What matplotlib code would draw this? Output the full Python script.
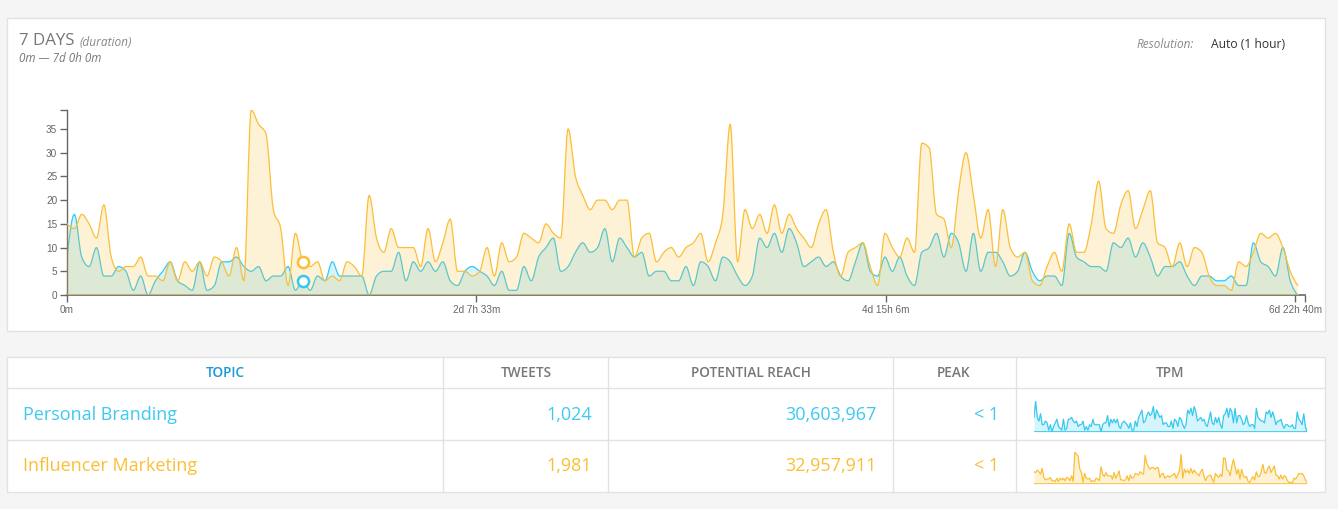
import matplotlib
matplotlib.use("Agg")
import matplotlib.pyplot as plt
from matplotlib.patches import Rectangle, PathPatch
from matplotlib.path import Path
from matplotlib.lines import Line2D

# ---------------- data ----------------
hours = list(range(168))  # hourly resolution over 7 days

influencer_marketing = [
    15, 14, 17, 15, 12, 19, 8, 5, 6, 6,
    8, 4, 4, 3, 7, 3, 7, 5, 7, 4,
    8, 7, 4, 10, 3, 39, 36, 34, 18, 14,
    2, 13, 7, 6, 7, 3, 4, 3, 7, 6,
    4, 21, 12, 9, 14, 10, 10, 10, 6, 14,
    7, 11, 16, 5, 5, 4, 5, 10, 4, 11,
    7, 8, 13, 12, 11, 15, 13, 12, 35, 25,
    21, 18, 20, 20, 18, 20, 20, 8, 12, 13,
    7, 9, 10, 8, 10, 11, 13, 7, 11, 17,
    36, 7, 18, 14, 17, 13, 19, 13, 17, 14,
    12, 10, 15, 18, 9, 4, 9, 10, 11, 6,
    2, 13, 10, 8, 12, 9, 32, 31, 17, 16,
    10, 22, 30, 21, 12, 18, 6, 18, 10, 8,
    9, 3, 2, 6, 9, 5, 15, 9, 9, 15,
    24, 14, 13, 19, 22, 14, 18, 22, 11, 10,
    6, 11, 6, 10, 9, 4, 2, 2, 1, 7,
    6, 9, 13, 12, 13, 10, 5, 2,
]

personal_branding = [
    8, 17, 8, 6, 10, 4, 4, 6, 5, 1,
    4, 0, 3, 5, 7, 3, 2, 1, 7, 1,
    2, 7, 7, 8, 6, 5, 6, 3, 4, 4,
    6, 1, 3, 1, 4, 3, 7, 4, 4, 4,
    4, 0, 4, 5, 5, 9, 3, 7, 5, 7,
    5, 7, 3, 2, 5, 6, 5, 4, 2, 5,
    1, 1, 6, 3, 8, 10, 12, 5, 6, 9,
    11, 9, 10, 14, 7, 12, 10, 8, 9, 4,
    5, 5, 3, 3, 6, 2, 7, 6, 3, 8,
    7, 4, 2, 4, 12, 10, 13, 9, 14, 11,
    6, 7, 8, 6, 7, 4, 3, 7, 11, 5,
    4, 8, 5, 8, 4, 2, 9, 10, 13, 8,
    13, 11, 5, 13, 5, 9, 9, 7, 4, 5,
    9, 5, 3, 4, 4, 2, 13, 8, 7, 6,
    6, 5, 11, 10, 12, 8, 11, 8, 4, 6,
    6, 7, 4, 2, 4, 4, 3, 3, 4, 2,
    2, 11, 7, 6, 4, 10, 3, 0,
]

y_ticks = [0, 5, 10, 15, 20, 25, 30, 35]
x_tick_hours = [0, 55.55, 111.1, 166.67]
x_tick_labels = ["0m", "2d 7h 33m", "4d 15h 6m", "6d 22h 40m"]
hover_index = 32

topics = ["Personal Branding", "Influencer Marketing"]
tweets = ["1,024", "1,981"]
reach = ["30,603,967", "32,957,911"]
peak = ["< 1", "< 1"]
headers = ["TOPIC", "TWEETS", "POTENTIAL REACH", "PEAK", "TPM"]

# ---------------- style ----------------
BLUE = "#35c9f0"
BLUE_TXT = "#3ec9f2"
YELLOW = "#fbbf36"
W, H = 1338, 509
UI = "Open Sans"
AX = "Liberation Sans"

fig = plt.figure(figsize=(W / 100, H / 100), dpi=100, facecolor="#f5f5f5")


def fx(x):
    return x / W


def fy(y):
    return 1 - y / H


def box(x0, y0, x1, y1):
    fig.patches.append(Rectangle((fx(x0), fy(y1)), fx(x1) - fx(x0), fy(y0) - fy(y1),
                                 transform=fig.transFigure, facecolor="white",
                                 edgecolor="#e2e2e2", lw=1.0, zorder=-10))


def hline(x0, x1, y):
    fig.add_artist(Line2D([fx(x0), fx(x1)], [fy(y), fy(y)], color="#e2e2e2", lw=1.0,
                          transform=fig.transFigure, zorder=-5))


def vline(x, y0, y1):
    fig.add_artist(Line2D([fx(x), fx(x)], [fy(y0), fy(y1)], color="#e2e2e2", lw=1.0,
                          transform=fig.transFigure, zorder=-5))


def _sign(v):
    return (v > 0) - (v < 0)


def monotone_path(xs, ys, close_to_zero=False):
    """Smooth monotone-x cubic Bezier path through the data points
    (same construction as a monotone-x curve renderer)."""
    n = len(xs)
    sl = [(ys[i + 1] - ys[i]) / (xs[i + 1] - xs[i]) for i in range(n - 1)]
    t = [0.0] * n
    for i in range(1, n - 1):
        h0 = xs[i] - xs[i - 1]
        h1 = xs[i + 1] - xs[i]
        s0, s1 = sl[i - 1], sl[i]
        p = (s0 * h1 + s1 * h0) / (h0 + h1)
        t[i] = (_sign(s0) + _sign(s1)) * min(abs(s0), abs(s1), 0.5 * abs(p))
    t[0] = (3 * sl[0] - t[1]) / 2
    t[-1] = (3 * sl[-1] - t[-2]) / 2
    verts = [(xs[0], ys[0])]
    codes = [Path.MOVETO]
    for i in range(n - 1):
        dx = (xs[i + 1] - xs[i]) / 3
        verts += [(xs[i] + dx, ys[i] + dx * t[i]),
                  (xs[i + 1] - dx, ys[i + 1] - dx * t[i + 1]),
                  (xs[i + 1], ys[i + 1])]
        codes += [Path.CURVE4] * 3
    if close_to_zero:
        verts += [(xs[-1], 0), (xs[0], 0), (xs[0], ys[0])]
        codes += [Path.LINETO, Path.LINETO, Path.CLOSEPOLY]
    return Path(verts, codes)


def smooth_area(axis, xs, ys, color, z, lw=0.9):
    axis.add_patch(PathPatch(monotone_path(xs, ys, True), facecolor=color, alpha=0.2,
                             lw=0, zorder=z))
    axis.add_patch(PathPatch(monotone_path(xs, ys), facecolor="none", edgecolor=color,
                             lw=lw, zorder=z + 1, capstyle="round", joinstyle="round"))


# panels
box(7, 18, 1325, 331)
box(7, 357, 1325, 492)

# header texts of the chart panel
fig.text(fx(19), fy(41), "7 DAYS", fontsize=12.2, color="#777777", family=UI, va="center")
fig.text(fx(80), fy(42), "(duration)", fontsize=8.6, color="#888888", family=UI,
         style="italic", va="center")
fig.text(fx(19), fy(59), "0m \u2014 7d 0h 0m", fontsize=8.4, color="#777777", family=UI,
         style="italic", va="center")
fig.text(fx(1194), fy(44), "Resolution:", fontsize=8.5, color="#888888", family=UI,
         style="italic", va="center", ha="right")
fig.text(fx(1211), fy(44), "Auto (1 hour)", fontsize=8.7, color="#333333", family=UI,
         va="center", ha="left")

# ---------------- main chart ----------------
ax = fig.add_axes([fx(67), fy(295), fx(1305) - fx(67), fy(110) - fy(295)])
ax.set_facecolor("none")
smooth_area(ax, hours, personal_branding, BLUE, 1)
smooth_area(ax, hours, influencer_marketing, YELLOW, 3)
ax.plot([hours[0], hours[-1]], [0, 0], color="#c9c27a", lw=1.2, zorder=5)

ax.plot(hours[hover_index], influencer_marketing[hover_index], "o", mfc="white", mec=YELLOW,
        ms=8, mew=1.8, zorder=6, clip_on=False)
ax.plot(hours[hover_index], personal_branding[hover_index], "o", mfc="white", mec=BLUE,
        ms=8, mew=1.8, zorder=6, clip_on=False)

ax.set_xlim(0, 168)
ax.set_ylim(0, 39)
for s in ["top", "right"]:
    ax.spines[s].set_visible(False)
ax.spines["left"].set_color("#666666")
ax.spines["bottom"].set_color("#666666")
ax.spines["left"].set_linewidth(1.0)
ax.spines["bottom"].set_linewidth(1.2)
ax.set_yticks(y_ticks + [39])
ax.set_yticklabels([str(v) for v in y_ticks] + [""])
ax.set_xticks(x_tick_hours + [168])
ax.set_xticklabels(x_tick_labels + [""])
ax.tick_params(axis="both", colors="#666666", length=5, width=1.0, labelsize=7.2,
               pad=2)
for lab in ax.get_xticklabels() + ax.get_yticklabels():
    lab.set_family(AX)
    lab.set_color("#666666")

# ---------------- table ----------------
hline(7, 1325, 388)
hline(7, 1325, 440)
col_edges = [7, 443, 608, 893, 1016, 1325]
for x in col_edges[1:-1]:
    vline(x, 357, 492)

header_x = [225, 526, 751, 954, 1170]
for i, (h, x) in enumerate(zip(headers, header_x)):
    fig.text(fx(x), fy(373), h, fontsize=9.8, color="#1a9ad6" if i == 0 else "#777777",
             family=UI, weight="semibold", ha="center", va="center")

row_y = [415, 466]
row_colors = [BLUE_TXT, YELLOW]
for r in range(2):
    c = row_colors[r]
    y = row_y[r]
    fig.text(fx(23), fy(y), topics[r], fontsize=13, color=c, family=UI, va="center")
    fig.text(fx(592), fy(y), tweets[r], fontsize=13, color=c, family=UI, va="center", ha="right")
    fig.text(fx(877), fy(y), reach[r], fontsize=13, color=c, family=UI, va="center", ha="right")
    fig.text(fx(999), fy(y), peak[r], fontsize=13, color=c, family=UI, va="center", ha="right")

# sparklines
spark_rows = [(personal_branding, BLUE, 401, 432), (influencer_marketing, YELLOW, 452, 484)]
for series, col, y0, y1 in spark_rows:
    sax = fig.add_axes([fx(1034), fy(y1), fx(1307) - fx(1034), fy(y0) - fy(y1)])
    sax.fill_between(hours, series, 0, color=col, alpha=0.2, lw=0)
    sax.plot(hours, series, color=col, lw=0.9)
    sax.plot([hours[0], hours[-1]], [0, 0], color=col, lw=1.2)
    sax.set_xlim(hours[0], hours[-1])
    sax.set_ylim(0, max(series))
    sax.axis("off")

fig.savefig("out.png", dpi=100, facecolor=fig.get_facecolor())
